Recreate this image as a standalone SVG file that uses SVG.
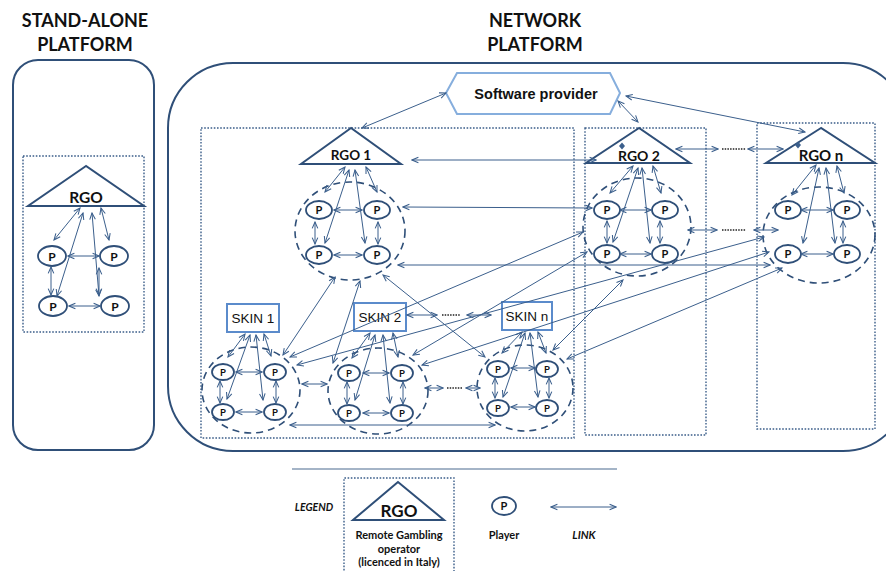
<svg xmlns="http://www.w3.org/2000/svg" width="886" height="571" viewBox="0 0 886 571">
<defs>
<marker id="ah" viewBox="0 0 10 10" refX="9" refY="5" markerWidth="8" markerHeight="8" markerUnits="userSpaceOnUse" orient="auto-start-reverse">
<path d="M1,1.5 L9,5 L1,8.5" fill="none" stroke="#3b5f8c" stroke-width="1.3"/>
</marker>
<style>
.box{fill:none;stroke:#2f4f78;stroke-width:2}
.dot{fill:none;stroke:#3a5d89;stroke-width:1.4;stroke-dasharray:1.6 1.6}
.tri{fill:#fff;stroke:#2f4f78;stroke-width:2}
.pl{fill:#fff;stroke:#2f4f78;stroke-width:1.8}
.dash{fill:none;stroke:#2f4f78;stroke-width:1.6;stroke-dasharray:7 5}
.ln{stroke:#3b5f8c;stroke-width:1;fill:none;marker-start:url(#ah);marker-end:url(#ah)}
.dots{stroke:#222;stroke-width:1.6;stroke-dasharray:1.5 1.2}
.skin{fill:#fff;stroke:#5b8bcb;stroke-width:2}
.sp{fill:#fff;stroke:#86aedd;stroke-width:2}
.ttl{font-family:Lato,"Liberation Sans",sans-serif;font-weight:bold;font-size:18px;fill:#111;text-anchor:middle}
.rgo{font-family:Lato,"Liberation Sans",sans-serif;font-weight:bold;fill:#111;text-anchor:middle}
.p{font-family:Lato,"Liberation Sans",sans-serif;font-weight:bold;fill:#111;text-anchor:middle}
.sk{font-family:"Liberation Sans",Arial,sans-serif;font-size:13.5px;fill:#111;text-anchor:middle}
.lg{font-family:Lato,"Liberation Sans",sans-serif;font-weight:bold;font-size:11px;fill:#111;text-anchor:middle}
.dm{fill:#3b5f8c}
</style>
</defs>

<!-- Titles -->
<text class="ttl" x="85" y="27">STAND-ALONE</text>
<text class="ttl" x="85" y="51">PLATFORM</text>
<text class="ttl" x="535" y="27">NETWORK</text>
<text class="ttl" x="535" y="51">PLATFORM</text>

<!-- Stand-alone platform -->
<g id="standalone-platform">
<rect class="box" x="13" y="60" width="141" height="390" rx="25"/>
<rect class="dot" x="23" y="156" width="121" height="176"/>
</g>
<g id="sa-rgo">
<polygon class="tri" points="86,166 28,206 144,206"/>
<text class="rgo" x="86" y="203" font-size="15.5">RGO</text>
</g>
<g id="sa-p1"><ellipse class="pl" cx="52" cy="256" rx="14" ry="10"/><text class="p" x="52" y="260.5" font-size="12">P</text></g>
<g id="sa-p2"><ellipse class="pl" cx="114" cy="256" rx="14" ry="10"/><text class="p" x="114" y="260.5" font-size="12">P</text></g>
<g id="sa-p3"><ellipse class="pl" cx="53" cy="306" rx="14" ry="10"/><text class="p" x="53" y="310.5" font-size="12">P</text></g>
<g id="sa-p4"><ellipse class="pl" cx="115" cy="306" rx="14" ry="10"/><text class="p" x="115" y="310.5" font-size="12">P</text></g>

<!-- Network platform -->
<g id="network-platform">
<rect class="box" x="168" y="63" width="740" height="388" rx="65"/>
<rect class="dot" x="201" y="128" width="373" height="310"/>
<rect class="dot" x="585" y="128" width="121" height="307"/>
<rect class="dot" x="757" y="123" width="118" height="306"/>
</g>

<g id="software-provider">
<polygon class="sp" points="446,93 457,73 610,73 620,93 610,114 457,114"/>
<text x="536" y="99" font-family="Liberation Sans,Arial,sans-serif" font-weight="bold" font-size="14.5" fill="#111" text-anchor="middle">Software provider</text>
</g>

<g id="rgo1">
<polygon class="tri" points="351,128 301,164 401,164"/>
<text class="rgo" x="351" y="160" font-size="13.5">RGO 1</text>
</g>
<g id="rgo2">
<polygon class="tri" points="639,128 586,163 690,163"/>
<text class="rgo" x="639" y="160.5" font-size="14">RGO 2</text>
<path class="dm" d="M622,142.5 L625,146 L622,149.5 L619,146 Z"/>
</g>
<g id="rgon">
<polygon class="tri" points="821,128 766,163 875,163"/>
<text class="rgo" x="821" y="160.5" font-size="15">RGO n</text>
<path class="dm" d="M798,141.5 L801,145 L798,148.5 L795,145 Z"/>
</g>

<!-- RGO1 players -->
<g id="rgo1-players">
<ellipse class="dash" cx="350" cy="231" rx="55" ry="49"/>
<g id="rgo1-p1"><ellipse class="pl" cx="319" cy="210" rx="13" ry="9"/><text class="p" x="319" y="214" font-size="11">P</text></g>
<g id="rgo1-p2"><ellipse class="pl" cx="377" cy="210" rx="13" ry="9"/><text class="p" x="377" y="214" font-size="11">P</text></g>
<g id="rgo1-p3"><ellipse class="pl" cx="319" cy="255" rx="13" ry="9"/><text class="p" x="319" y="259" font-size="11">P</text></g>
<g id="rgo1-p4"><ellipse class="pl" cx="377" cy="255" rx="13" ry="9"/><text class="p" x="377" y="259" font-size="11">P</text></g>
</g>
<g id="rgo2-players">
<ellipse class="dash" cx="637" cy="227" rx="54" ry="49"/>
<g id="rgo2-p1"><ellipse class="pl" cx="607" cy="210" rx="13" ry="9"/><text class="p" x="607" y="214" font-size="11">P</text></g>
<g id="rgo2-p2"><ellipse class="pl" cx="665" cy="210" rx="13" ry="9"/><text class="p" x="665" y="214" font-size="11">P</text></g>
<g id="rgo2-p3"><ellipse class="pl" cx="607" cy="254" rx="13" ry="9"/><text class="p" x="607" y="258" font-size="11">P</text></g>
<g id="rgo2-p4"><ellipse class="pl" cx="665" cy="254" rx="13" ry="9"/><text class="p" x="665" y="258" font-size="11">P</text></g>
</g>
<g id="rgon-players">
<ellipse class="dash" cx="819" cy="235" rx="56" ry="48"/>
<g id="rgon-p1"><ellipse class="pl" cx="788" cy="210" rx="13" ry="9"/><text class="p" x="788" y="214" font-size="11">P</text></g>
<g id="rgon-p2"><ellipse class="pl" cx="847" cy="210" rx="13" ry="9"/><text class="p" x="847" y="214" font-size="11">P</text></g>
<g id="rgon-p3"><ellipse class="pl" cx="788" cy="254" rx="13" ry="9"/><text class="p" x="788" y="258" font-size="11">P</text></g>
<g id="rgon-p4"><ellipse class="pl" cx="847" cy="254" rx="13" ry="9"/><text class="p" x="847" y="258" font-size="11">P</text></g>
</g>

<!-- Skins -->
<g id="skin1"><rect class="skin" x="227" y="304" width="52" height="28"/><text class="sk" x="253" y="323">SKIN 1</text></g>
<g id="skin2"><rect class="skin" x="354" y="303" width="52" height="28"/><text class="sk" x="380" y="322">SKIN 2</text></g>
<g id="skinn"><rect class="skin" x="502" y="302" width="50" height="28"/><text class="sk" x="527" y="321">SKIN n</text></g>

<g id="skin1-players">
<ellipse class="dash" cx="251" cy="390" rx="49" ry="43"/>
<g><ellipse class="pl" cx="223" cy="372" rx="11" ry="8"/><text class="p" x="223" y="375.5" font-size="9.5">P</text></g>
<g><ellipse class="pl" cx="275" cy="372" rx="11" ry="8"/><text class="p" x="275" y="375.5" font-size="9.5">P</text></g>
<g><ellipse class="pl" cx="223" cy="412" rx="11" ry="8"/><text class="p" x="223" y="415.5" font-size="9.5">P</text></g>
<g><ellipse class="pl" cx="275" cy="412" rx="11" ry="8"/><text class="p" x="275" y="415.5" font-size="9.5">P</text></g>
</g>
<g id="skin2-players">
<ellipse class="dash" cx="378" cy="391" rx="50" ry="43"/>
<g><ellipse class="pl" cx="349" cy="373" rx="11" ry="8"/><text class="p" x="349" y="376.5" font-size="9.5">P</text></g>
<g><ellipse class="pl" cx="402" cy="373" rx="11" ry="8"/><text class="p" x="402" y="376.5" font-size="9.5">P</text></g>
<g><ellipse class="pl" cx="349" cy="413" rx="11" ry="8"/><text class="p" x="349" y="416.5" font-size="9.5">P</text></g>
<g><ellipse class="pl" cx="402" cy="413" rx="11" ry="8"/><text class="p" x="402" y="416.5" font-size="9.5">P</text></g>
</g>
<g id="skinn-players">
<ellipse class="dash" cx="525" cy="388" rx="48" ry="43"/>
<g><ellipse class="pl" cx="498" cy="369" rx="11" ry="8"/><text class="p" x="498" y="372.5" font-size="9.5">P</text></g>
<g><ellipse class="pl" cx="547" cy="369" rx="11" ry="8"/><text class="p" x="547" y="372.5" font-size="9.5">P</text></g>
<g><ellipse class="pl" cx="498" cy="408" rx="11" ry="8"/><text class="p" x="498" y="411.5" font-size="9.5">P</text></g>
<g><ellipse class="pl" cx="547" cy="408" rx="11" ry="8"/><text class="p" x="547" y="411.5" font-size="9.5">P</text></g>
</g>

<!-- Connectors -->
<g id="connectors">
<!-- stand-alone -->
<line class="ln" x1="80" y1="208" x2="54" y2="240"/>
<line class="ln" x1="83" y1="213" x2="57" y2="296"/>
<line class="ln" x1="92" y1="213" x2="99" y2="296"/>
<line class="ln" x1="101" y1="208" x2="109" y2="240"/>
<line class="ln" x1="68" y1="256" x2="99" y2="256"/>
<line class="ln" x1="69" y1="306" x2="100" y2="306"/>
<line class="ln" x1="51" y1="267" x2="51" y2="295"/>
<line class="ln" x1="99" y1="268" x2="99" y2="295"/>
<!-- RGO1 cluster -->
<line class="ln" x1="345" y1="167" x2="325" y2="192"/>
<line class="ln" x1="349" y1="170" x2="325" y2="243"/>
<line class="ln" x1="355" y1="170" x2="365" y2="243"/>
<line class="ln" x1="366" y1="167" x2="377" y2="192"/>
<line class="ln" x1="334" y1="210" x2="362" y2="210"/>
<line class="ln" x1="334" y1="255" x2="362" y2="255"/>
<line class="ln" x1="315" y1="222" x2="315" y2="244"/>
<line class="ln" x1="378" y1="222" x2="378" y2="244"/>
<!-- RGO2 cluster -->
<line class="ln" x1="633" y1="166" x2="610" y2="193"/>
<line class="ln" x1="638" y1="168" x2="613" y2="242"/>
<line class="ln" x1="642" y1="168" x2="650" y2="243"/>
<line class="ln" x1="653" y1="166" x2="661" y2="193"/>
<line class="ln" x1="620" y1="210" x2="651" y2="210"/>
<line class="ln" x1="620" y1="254" x2="651" y2="254"/>
<line class="ln" x1="607" y1="221" x2="607" y2="243"/>
<line class="ln" x1="660" y1="221" x2="660" y2="243"/>
<!-- RGOn cluster -->
<line class="ln" x1="816" y1="165" x2="792" y2="195"/>
<line class="ln" x1="819" y1="168" x2="803" y2="243"/>
<line class="ln" x1="826" y1="168" x2="835" y2="243"/>
<line class="ln" x1="837" y1="166" x2="844" y2="193"/>
<line class="ln" x1="801" y1="210" x2="833" y2="210"/>
<line class="ln" x1="801" y1="254" x2="833" y2="254"/>
<line class="ln" x1="843" y1="221" x2="843" y2="243"/>
<!-- Skin1 cluster -->
<line class="ln" x1="245" y1="334" x2="228" y2="357"/>
<line class="ln" x1="250" y1="335" x2="227" y2="399"/>
<line class="ln" x1="256" y1="335" x2="263" y2="400"/>
<line class="ln" x1="264" y1="334" x2="271" y2="356"/>
<line class="ln" x1="236" y1="372" x2="262" y2="372"/>
<line class="ln" x1="236" y1="412" x2="262" y2="412"/>
<line class="ln" x1="220" y1="381" x2="220" y2="403"/>
<line class="ln" x1="276" y1="381" x2="276" y2="403"/>
<!-- Skin2 cluster -->
<line class="ln" x1="370" y1="333" x2="352" y2="358"/>
<line class="ln" x1="375" y1="335" x2="355" y2="400"/>
<line class="ln" x1="383" y1="335" x2="390" y2="403"/>
<line class="ln" x1="393" y1="333" x2="398" y2="357"/>
<line class="ln" x1="363" y1="373" x2="389" y2="373"/>
<line class="ln" x1="363" y1="413" x2="389" y2="413"/>
<line class="ln" x1="347" y1="382" x2="347" y2="404"/>
<line class="ln" x1="403" y1="382" x2="403" y2="404"/>
<!-- Skinn cluster -->
<line class="ln" x1="522" y1="332" x2="502" y2="353"/>
<line class="ln" x1="525" y1="333" x2="503" y2="397"/>
<line class="ln" x1="530" y1="333" x2="538" y2="397"/>
<line class="ln" x1="538" y1="332" x2="546" y2="353"/>
<line class="ln" x1="511" y1="368" x2="535" y2="368"/>
<line class="ln" x1="511" y1="407" x2="535" y2="407"/>
<line class="ln" x1="495" y1="378" x2="495" y2="398"/>
<line class="ln" x1="549" y1="378" x2="549" y2="398"/>
<!-- inter-node links -->
<line class="ln" x1="446" y1="93" x2="362" y2="128"/>
<line class="ln" x1="618" y1="101" x2="638" y2="122"/>
<line class="ln" x1="626" y1="96" x2="805" y2="132"/>
<line class="ln" x1="412" y1="160" x2="596" y2="160"/>
<line class="ln" x1="676" y1="149" x2="718" y2="149"/>
<line class="dots" x1="722" y1="149" x2="746" y2="149"/>
<line class="ln" x1="748" y1="149" x2="783" y2="149"/>
<line class="ln" x1="403" y1="207" x2="592" y2="208"/>
<line class="ln" x1="398" y1="265" x2="770" y2="265"/>
<line class="ln" x1="688" y1="230" x2="717" y2="230"/>
<line class="dots" x1="722" y1="230" x2="746" y2="230"/>
<line class="ln" x1="754" y1="230" x2="778" y2="230"/>
<line class="ln" x1="407" y1="315" x2="437" y2="315"/>
<line class="dots" x1="442" y1="315" x2="460" y2="315"/>
<line class="ln" x1="467" y1="315" x2="491" y2="315"/>
<line class="ln" x1="302" y1="384" x2="327" y2="384"/>
<line class="ln" x1="425" y1="388" x2="443" y2="388"/>
<line class="dots" x1="447" y1="388" x2="462" y2="388"/>
<line class="ln" x1="466" y1="388" x2="480" y2="388"/>
<line class="ln" x1="290" y1="425" x2="495" y2="425"/>
<line class="ln" x1="335" y1="277" x2="283" y2="355"/>
<line class="ln" x1="360" y1="281" x2="333" y2="363"/>
<line class="ln" x1="383" y1="275" x2="485" y2="357"/>
<line class="ln" x1="290" y1="357" x2="583" y2="232"/>
<line class="ln" x1="297" y1="365" x2="764" y2="237"/>
<line class="ln" x1="413" y1="355" x2="587" y2="252"/>
<line class="ln" x1="422" y1="365" x2="769" y2="252"/>
<line class="ln" x1="553" y1="350" x2="623" y2="280"/>
<line class="ln" x1="567" y1="359" x2="782" y2="268"/>
<!-- legend link -->
<line class="ln" x1="551" y1="507" x2="616" y2="507"/>
</g>

<!-- Legend -->
<g id="legend">
<line x1="292" y1="469" x2="617" y2="469" stroke="#4a6a90" stroke-width="1.2"/>
<text x="314" y="511" font-family="Lato,'Liberation Sans',sans-serif" font-weight="bold" font-style="italic" font-size="10.5" fill="#111" text-anchor="middle">LEGEND</text>
<path class="dot" d="M344,580 L344,478 L454,478 L454,580"/>
<g id="legend-rgo">
<polygon class="tri" points="398,482 353,520 444,520"/>
<text class="rgo" x="399" y="517" font-size="17">RGO</text>
<text class="lg" x="399" y="539">Remote Gambling</text>
<text class="lg" x="399" y="553">operator</text>
<text class="lg" x="399" y="566">(licenced in Italy)</text>
</g>
<g id="legend-player">
<ellipse class="pl" cx="504" cy="506" rx="12" ry="9"/>
<text class="p" x="504" y="510" font-size="11">P</text>
<text class="lg" x="504" y="539">Player</text>
</g>
<text x="584" y="539" font-family="Lato,'Liberation Sans',sans-serif" font-weight="bold" font-style="italic" font-size="11" fill="#111" text-anchor="middle">LINK</text>
</g>
</svg>
